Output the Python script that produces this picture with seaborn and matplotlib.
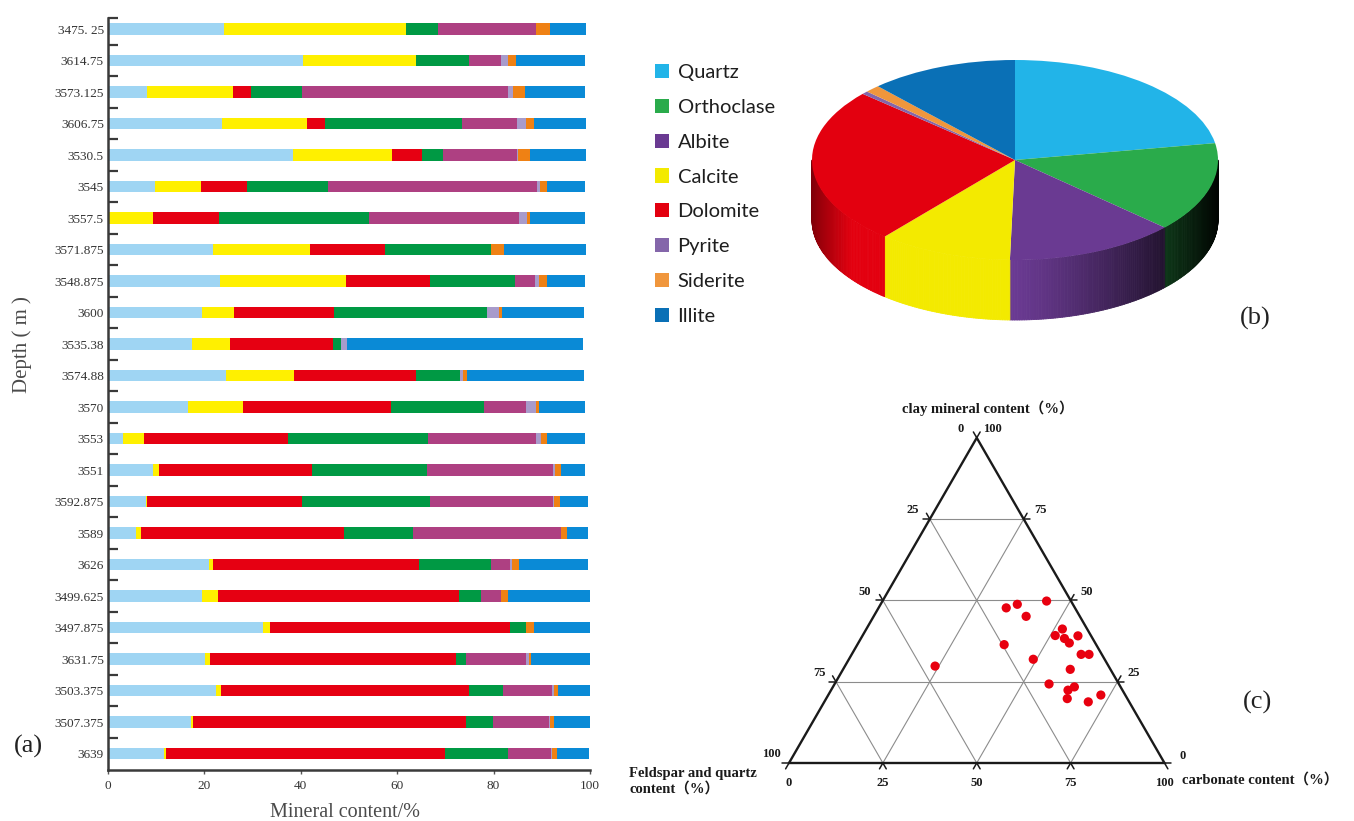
import numpy as np
import pandas as pd
import matplotlib
matplotlib.use("Agg")
import matplotlib.pyplot as plt
import seaborn as sns
from matplotlib.patches import Patch
from matplotlib.collections import PolyCollection
from matplotlib.colors import to_rgb

sns.set_theme(style="white")
SERIF = ["Liberation Serif", "Noto Sans CJK SC", "DejaVu Sans"]
plt.rcParams["font.family"] = SERIF

# ---------------- (a) mineral composition per sample ----------------
depths = ["3475. 25", "3614.75", "3573.125", "3606.75", "3530.5", "3545", "3557.5",
          "3571.875", "3548.875", "3600", "3535.38", "3574.88", "3570", "3553",
          "3551", "3592.875", "3589", "3626", "3499.625", "3497.875", "3631.75",
          "3503.375", "3507.375", "3639"]

quartz = [24.0, 40.5, 8.0, 23.6, 38.3, 9.8, 0.0, 21.7, 23.3, 19.5, 17.5, 24.4,
          16.7, 3.2, 9.4, 7.9, 5.8, 21.0, 19.6, 32.1, 20.1, 22.5, 17.2, 11.7]
calcite = [37.9, 23.3, 17.9, 17.7, 20.7, 9.4, 9.4, 20.2, 26.1, 6.7, 7.9, 14.2,
           11.3, 4.2, 1.2, 0.2, 1.0, 0.7, 3.3, 1.5, 1.1, 1.0, 0.4, 0.4]
dolomite = [0.0, 0.0, 3.7, 3.7, 6.2, 9.6, 13.7, 15.5, 17.5, 20.6, 21.3, 25.2,
            30.7, 30.0, 31.8, 32.1, 42.1, 42.9, 49.9, 49.9, 51.1, 51.3, 56.7, 57.9]
orthoclase = [6.6, 11.1, 10.7, 28.4, 4.2, 16.8, 31.0, 22.0, 17.6, 31.9, 1.6, 9.2,
              19.3, 29.0, 23.7, 26.6, 14.4, 14.8, 4.6, 3.3, 2.0, 7.2, 5.6, 12.9]
albite = [20.2, 6.6, 42.6, 11.4, 15.4, 43.5, 31.1, 0.0, 4.0, 0.0, 0.0, 0.0,
          8.8, 22.5, 26.3, 25.5, 30.6, 4.1, 4.1, 0.0, 12.5, 10.1, 11.6, 9.1]
pyrite = [0.0, 1.4, 1.1, 2.0, 0.2, 0.6, 1.8, 0.0, 1.0, 2.5, 1.2, 0.6,
          1.9, 0.9, 0.3, 0.2, 0.0, 0.3, 0.1, 0.0, 0.6, 0.4, 0.2, 0.1]
siderite = [2.9, 1.8, 2.6, 1.5, 2.5, 1.3, 0.6, 2.7, 1.5, 0.5, 0.0, 0.8,
            0.7, 1.2, 1.3, 1.3, 1.3, 1.4, 1.3, 1.5, 0.4, 0.9, 0.8, 1.0]
illite = [7.5, 14.3, 12.3, 10.8, 11.6, 8.0, 11.4, 17.0, 7.9, 17.0, 49.1, 24.4,
          9.5, 7.9, 5.0, 5.8, 4.4, 14.4, 17.2, 11.8, 12.4, 6.9, 7.7, 6.7]

bar_components = ["Quartz", "Calcite", "Dolomite", "Orthoclase", "Albite",
                  "Pyrite", "Siderite", "Illite"]
bar_colors = ["#9fd5f3", "#fff000", "#e60012", "#009944", "#ae4082",
              "#a89bcb", "#ef8114", "#0a8ad6"]

# ---------------- (b) average composition ----------------
pie_minerals = ["Quartz", "Orthoclase", "Albite", "Calcite", "Dolomite",
                "Pyrite", "Siderite", "Illite"]
pie_share = [22.3, 14.5, 13.6, 10.7, 25.4, 0.5, 1.2, 11.8]
pie_colors = ["#22b4e8", "#2aab4b", "#6a3a92", "#f3ea00", "#e3000f",
              "#8466aa", "#f0963c", "#0a70b6"]

# ---------------- (c) ternary classification ----------------
clay_pct = [49.8, 48.8, 47.7, 45.1, 41.2, 39.2, 38.3, 39.1, 36.9, 36.4, 33.4,
            33.4, 31.9, 29.8, 28.8, 24.3, 23.4, 22.4, 19.8, 20.9, 18.8]
carbonate_pct = [43.7, 36.4, 34.0, 40.6, 52.2, 51.3, 54.2, 57.4, 56.2, 39.1, 61.1,
                 63.2, 49.1, 24.0, 60.5, 57.1, 64.3, 63.1, 64.2, 72.6, 70.3]
felsic_pct = [6.5, 14.8, 18.3, 14.3, 6.6, 9.5, 7.5, 3.5, 6.9, 24.5, 5.5,
              3.4, 19.0, 46.2, 10.7, 18.6, 12.3, 14.5, 16.0, 6.5, 10.9]
ternary_ticks = [0, 25, 50, 75, 100]

W, H = 1354, 821
fig = plt.figure(figsize=(W / 100, H / 100), dpi=100)
fig.patch.set_facecolor("white")


def fig_rect(x0, y0, x1, y1):
    """Pixel box (top-left origin) -> figure rect."""
    return [x0 / W, 1 - y1 / H, (x1 - x0) / W, (y1 - y0) / H]


# ===================== (a) stacked bars =====================
ax = fig.add_axes(fig_rect(108, 18, 590, 770))
df = pd.DataFrame({"depth": depths, "Quartz": quartz, "Calcite": calcite,
                   "Dolomite": dolomite, "Orthoclase": orthoclase, "Albite": albite,
                   "Pyrite": pyrite, "Siderite": siderite, "Illite": illite})
cum = df[bar_components].cumsum(axis=1)
for comp, col in reversed(list(zip(bar_components, bar_colors))):
    sns.barplot(x=cum[comp], y=df["depth"], order=depths, orient="h", color=col,
                saturation=1, width=0.36, linewidth=0, errorbar=None, ax=ax)

ax.set_xlim(0, 100)
ax.set_ylim(len(depths) - 1 + 0.52, -0.35)
ax.set_xticks([0, 20, 40, 60, 80, 100])
ax.set_yticks(range(len(depths)))
ax.set_yticklabels(depths)
ax.set_yticks([-0.35] + [i - 0.5 for i in range(1, len(depths))], minor=True)
for side in ("top", "right"):
    ax.spines[side].set_visible(False)
for side in ("left", "bottom"):
    ax.spines[side].set_color("#3a3a3a")
    ax.spines[side].set_linewidth(1.8)
ax.tick_params(axis="y", which="major", length=0, pad=3, labelsize=9.5,
               labelcolor="#333333")
ax.tick_params(axis="y", which="minor", direction="in", length=7, width=1.6,
               color="#3a3a3a", left=True)
ax.tick_params(axis="x", which="major", direction="out", length=3, width=1,
               color="#555555", pad=4, labelsize=9.5, labelcolor="#333333",
               bottom=True)
ax.set_xlabel("")
ax.set_ylabel("")
ax.grid(False)
fig.text(345 / W, 1 - 812 / H, "Mineral content/%", ha="center", va="center",
         fontsize=14.5, color="#4a4a4a")
fig.text(22 / W, 1 - 345 / H, "Depth ( m )", ha="center", va="center",
         rotation=90, fontsize=15, color="#4a4a4a")
fig.text(28 / W, 1 - 746 / H, "(a)", ha="center", va="center", fontsize=19,
         color="#222222")

# ===================== (b) 3-D style pie =====================
cx_px, cy_px, rx_px, ry_px, depth_px = 1015, 160, 203, 100, 60
box = (790, 40, 1240, 345)
axp = fig.add_axes(fig_rect(*box))
axp.pie(pie_share, colors=pie_colors, startangle=90, counterclock=False,
        radius=1, wedgeprops=dict(linewidth=0, antialiased=True))
axp.set_aspect("auto")
axp.set_xlim((box[0] - cx_px) / rx_px, (box[2] - cx_px) / rx_px)
axp.set_ylim(-(box[3] - cy_px) / ry_px, (cy_px - box[1]) / ry_px)
axp.axis("off")

wall = depth_px / ry_px
edges = 90 - np.concatenate([[0], np.cumsum(pie_share)]) / sum(pie_share) * 360


def shade(c):
    """Side-wall brightness as a function of horizontal position (-1..1)."""
    if c < -0.8:
        return 0.55 + 0.45 * ((c + 1) / 0.2) ** 0.8
    if c <= 0:
        return 1.0
    return max(0.03, 1 - 0.97 * c ** 1.2)


polys, fills = [], []
for k, col in enumerate(pie_colors):
    lo, hi = max(edges[k + 1], -180), min(edges[k], 0)
    if lo >= hi:
        continue
    ts = np.radians(np.linspace(lo, hi, max(3, int((hi - lo) * 1.5))))
    base = np.array(to_rgb(col))
    for t0, t1 in zip(ts[:-1], ts[1:]):
        polys.append([(np.cos(t0), np.sin(t0)), (np.cos(t1), np.sin(t1)),
                      (np.cos(t1), np.sin(t1) - wall), (np.cos(t0), np.sin(t0) - wall)])
        fills.append(np.clip(base * shade(np.cos((t0 + t1) / 2)), 0, 1))
axp.add_collection(PolyCollection(polys, facecolors=fills, edgecolors=fills,
                                  linewidths=0.6, zorder=0.5))

handles = [Patch(facecolor=c, edgecolor="none") for c in pie_colors]
fig.legend(handles, pie_minerals, loc="upper left",
           bbox_to_anchor=(655 / W, 1 - 64 / H), frameon=False,
           prop=dict(family="Lato", size=14.5), labelcolor="#1e1e1e",
           handlelength=0.7, handleheight=0.7, handletextpad=0.42,
           labelspacing=0.88, borderpad=0, borderaxespad=0)
fig.text(1255 / W, 1 - 318 / H, "(b)", ha="center", va="center", fontsize=19,
         color="#222222")

# ===================== (c) ternary diagram =====================
S = 375.5
ox, oy = 789, 763
axt = fig.add_axes(fig_rect(620, 390, W, H))
axt.set_xlim((620 - ox) / S, (W - ox) / S)
axt.set_ylim(-(H - oy) / S, (oy - 390) / S)
axt.axis("off")
h = np.sqrt(3) / 2


def tern(clay, carb):
    clay = np.asarray(clay, float) / 100
    carb = np.asarray(carb, float) / 100
    return carb + clay / 2, clay * h


ext = 0.018
for v in np.array(ternary_ticks) / 100:
    segs = [
        ((v / 2, v * h), (1 - v / 2, v * h)),                 # constant clay
        ((v, 0), (v + (1 - v) / 2, (1 - v) * h)),            # constant carbonate
        ((1 - v, 0), ((1 - v) / 2, (1 - v) * h)),            # constant feldspar+quartz
    ]
    for (x0, y0), (x1, y1) in segs:
        L = np.hypot(x1 - x0, y1 - y0)
        if L < 1e-9:
            continue
        dx, dy = (x1 - x0) / L, (y1 - y0) / L
        if 0 < v < 1:
            axt.plot([x0, x1], [y0, y1], color="#8c8c8c", lw=0.8, zorder=1)
        axt.plot([x0 - dx * ext, x0], [y0 - dy * ext, y0], color="#1a1a1a", lw=1.1)
        axt.plot([x1, x1 + dx * ext], [y1, y1 + dy * ext], color="#1a1a1a", lw=1.1)
axt.plot([0, 1, 0.5, 0], [0, 0, h, 0], color="#1a1a1a", lw=1.7, zorder=2,
         solid_joinstyle="miter")

px, py = tern(clay_pct, carbonate_pct)
sns.scatterplot(x=px, y=py, color="#e8000f", s=44, edgecolor="none", ax=axt,
                zorder=3)
axt.set_xlabel("")
axt.set_ylabel("")

tk = dict(fontsize=9, fontweight="bold", color="#1a1a1a", ha="center",
          va="center")
for t in ternary_ticks:
    axt.text(t / 100, -0.053, str(t), **tk)
left_pos = {0: (0.456, 0.890), 25: (0.330, 0.674), 50: (0.203, 0.456),
            75: (0.080, 0.240), 100: (-0.046, 0.024)}
right_pos = {100: (0.542, 0.890), 75: (0.671, 0.674), 50: (0.792, 0.456),
             25: (0.917, 0.240), 0: (1.047, 0.019)}
for t, (x, y) in left_pos.items():
    axt.text(x, y, str(t), **tk)
for t, (x, y) in right_pos.items():
    axt.text(x, y, str(t), **tk)

lab = dict(fontsize=10.5, fontweight="bold", color="#1a1a1a")
axt.text(0.53, 0.945, "clay mineral content（%）", ha="center", va="center", **lab)
axt.text(1.047, -0.045, "carbonate content（%）", ha="left", va="center", **lab)
axt.text(-0.426, -0.049, "Feldspar and quartz\ncontent（%）", ha="left",
         va="center", linespacing=1.15, **lab)
axt.text(1.249, 0.162, "(c)", ha="center", va="center", fontsize=19,
         color="#222222")

fig.savefig("out.png", dpi=100, facecolor="white")
